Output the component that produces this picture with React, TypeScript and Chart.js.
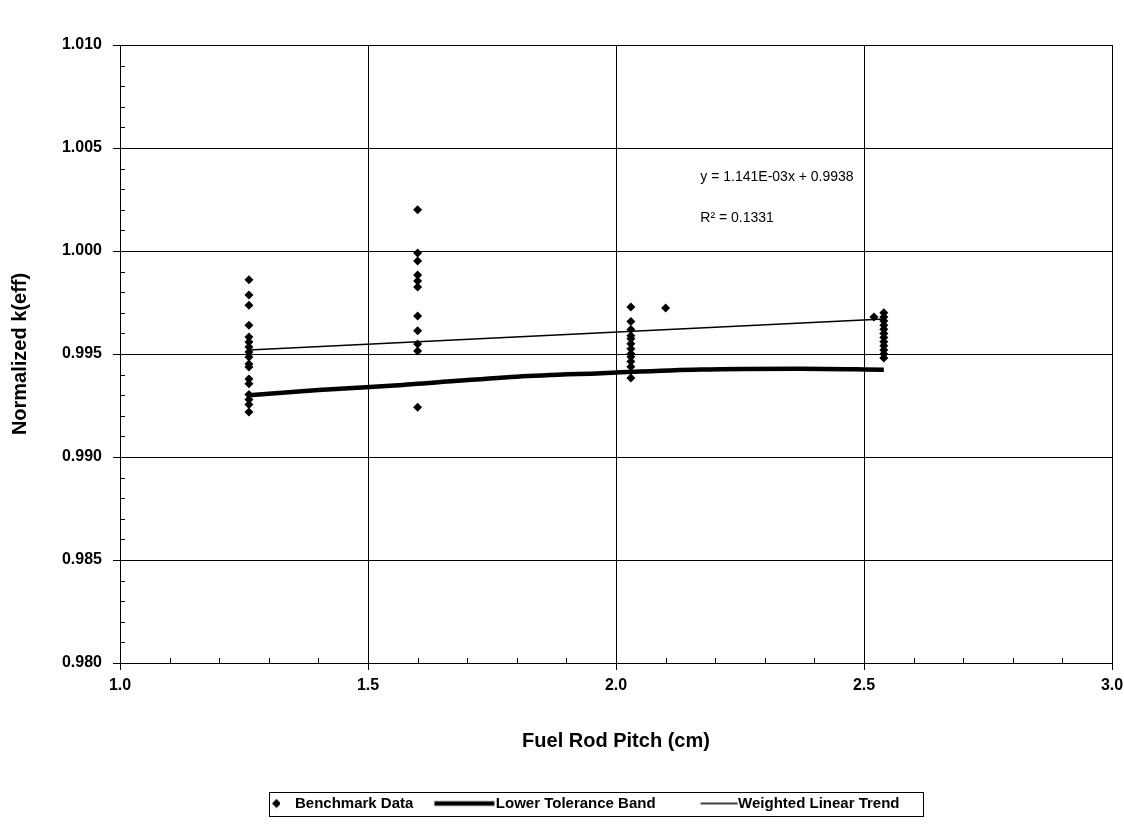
import React, { useEffect, useRef } from "react";
import { Chart, registerables } from "chart.js";

Chart.register(...registerables);

const FONT = "'Liberation Sans', Arial, Helvetica, sans-serif";

// ---- data ----
const clusterPitch = [1.26, 1.6, 2.03, 2.1, 2.52, 2.54];
const clusterKeff: number[][] = [
  [0.9986, 0.99786, 0.99737, 0.9964, 0.99582, 0.99558, 0.99534, 0.9951, 0.99485, 0.99452, 0.99437, 0.99379, 0.99355, 0.99303, 0.99279, 0.99255, 0.99219],
  [1.002, 0.9999, 0.99952, 0.99883, 0.99854, 0.99825, 0.99685, 0.99613, 0.99548, 0.99514, 0.99241],
  [0.99728, 0.99658, 0.99619, 0.99588, 0.99574, 0.9955, 0.99525, 0.99501, 0.99487, 0.99463, 0.99438, 0.99383],
  [0.99723],
  [0.9968],
  [0.997, 0.9968, 0.9966, 0.9964, 0.9962, 0.996, 0.9958, 0.9956, 0.9954, 0.9952, 0.995, 0.9948],
];

const bandPitch = [1.26, 1.4, 1.57, 1.8, 1.97, 2.17, 2.37, 2.54];
const bandKeff = [0.993, 0.99325, 0.9935, 0.9939, 0.99407, 0.99425, 0.99429, 0.99424];

const trendPitch = [1.26, 2.54];
const trendKeff = [0.9952, 0.9967];

const seriesNames = ["Benchmark Data", "Lower Tolerance Band", "Weighted Linear Trend"];

const xRange = [1.0, 3.0];
const yRange = [0.98, 1.01];
const xMajorStep = 0.5;
const yMajorStep = 0.005;
const xMinorStep = 0.1;
const yMinorStep = 0.001;

const equationText = ["y = 1.141E-03x + 0.9938", "R\u00B2 = 0.1331"];
const equationPitch = [2.17, 2.17];
const equationKeff = [1.0036, 1.0016];

function makeMarker(kind: string): HTMLCanvasElement {
  const c = document.createElement("canvas");
  const ctx = c.getContext("2d")!;
  if (kind === "diamond") {
    c.width = 60;
    c.height = 12;
    ctx.fillStyle = "#000";
    const cx = 56.5, cy = 6, r = 4.5;
    ctx.beginPath();
    ctx.moveTo(cx, cy - r);
    ctx.lineTo(cx + r, cy);
    ctx.lineTo(cx, cy + r);
    ctx.lineTo(cx - r, cy);
    ctx.closePath();
    ctx.fill();
  } else if (kind === "thick") {
    c.width = 90;
    c.height = 8;
    ctx.strokeStyle = "#000";
    ctx.lineWidth = 4.5;
    ctx.beginPath();
    ctx.moveTo(28.5, 4);
    ctx.lineTo(88.5, 4);
    ctx.stroke();
  } else {
    c.width = 90;
    c.height = 8;
    ctx.strokeStyle = "#000";
    ctx.lineWidth = 1.5;
    ctx.beginPath();
    ctx.moveTo(52.5, 4);
    ctx.lineTo(89.5, 4);
    ctx.stroke();
  }
  return c;
}

const minorTicksPlugin = {
  id: "minorTicks",
  afterDatasetsDraw(chart: any) {
    const { ctx, chartArea, scales } = chart;
    const x = scales.x, y = scales.y;
    ctx.save();
    ctx.strokeStyle = "#000";
    ctx.lineWidth = 1;
    ctx.beginPath();
    const nx = Math.round((xRange[1] - xRange[0]) / xMinorStep);
    for (let i = 1; i < nx; i++) {
      if (i % 5 === 0) continue;
      const px = Math.round(x.getPixelForValue(xRange[0] + i * xMinorStep)) + 0.5;
      ctx.moveTo(px, chartArea.bottom);
      ctx.lineTo(px, chartArea.bottom - 5);
    }
    const ny = Math.round((yRange[1] - yRange[0]) / yMinorStep);
    for (let i = 1; i < ny; i++) {
      if (i % 5 === 0) continue;
      const py = Math.round(y.getPixelForValue(yRange[0] + i * yMinorStep)) + 0.5;
      ctx.moveTo(chartArea.left, py);
      ctx.lineTo(chartArea.left + 5, py);
    }
    ctx.stroke();

    // regression annotation
    ctx.font = `14px ${FONT}`;
    ctx.fillStyle = "#000";
    ctx.textAlign = "left";
    ctx.textBaseline = "middle";
    equationText.forEach((t, i) => {
      ctx.fillText(t, x.getPixelForValue(equationPitch[i]), y.getPixelForValue(equationKeff[i]));
    });
    ctx.restore();
  },
};

const legendBoxPlugin = {
  id: "legendBox",
  afterDraw(chart: any) {
    const lg = chart.legend;
    if (!lg || !lg.legendHitBoxes || !lg.legendHitBoxes.length) return;
    const hb = lg.legendHitBoxes;
    const bw = lg.options.labels.pointStyleWidth;
    const first = hb[0];
    const last = hb[hb.length - 1];
    const left = first.left + bw - 18;
    const right = last.left + last.width + 24;
    const cy = first.top + first.height / 2;
    const { ctx } = chart;
    ctx.save();
    ctx.strokeStyle = "#000";
    ctx.lineWidth = 1;
    ctx.strokeRect(Math.round(left) + 0.5, Math.round(cy - 12) + 0.5, Math.round(right - left), 24);
    ctx.restore();
  },
};

export default function App() {
  const ref = useRef<HTMLCanvasElement | null>(null);

  useEffect(() => {
    document.body.style.margin = "0";
    document.body.style.overflow = "hidden";
    const canvas = ref.current;
    if (!canvas) return;

    const benchmark: { x: number; y: number }[] = [];
    clusterPitch.forEach((px, i) => clusterKeff[i].forEach((k) => benchmark.push({ x: px, y: k })));
    const band = bandPitch.map((p, i) => ({ x: p, y: bandKeff[i] }));
    const trend = trendPitch.map((p, i) => ({ x: p, y: trendKeff[i] }));

    const markers = [makeMarker("diamond"), makeMarker("thick"), makeMarker("thin")];

    const chart = new Chart(canvas, {
      type: "scatter",
      data: {
        datasets: [
          {
            label: seriesNames[0],
            data: benchmark,
            showLine: false,
            pointStyle: "rectRot",
            pointRadius: 4.5,
            backgroundColor: "#000",
            borderColor: "#000",
            borderWidth: 0,
          },
          {
            label: seriesNames[1],
            data: band,
            showLine: true,
            pointRadius: 0,
            borderColor: "#000",
            backgroundColor: "#000",
            borderWidth: 4.5,
            cubicInterpolationMode: "monotone",
          },
          {
            label: seriesNames[2],
            data: trend,
            showLine: true,
            pointRadius: 0,
            borderColor: "#000",
            backgroundColor: "#000",
            borderWidth: 1.5,
          },
        ],
      },
      options: {
        responsive: false,
        animation: false,
        devicePixelRatio: 1,
        events: [],
        layout: { padding: { top: 45, right: 12, left: 0, bottom: 14 } },
        scales: {
          x: {
            type: "linear",
            min: xRange[0],
            max: xRange[1],
            afterFit: (s: any) => {
              s.height = 133;
              s.paddingLeft = 0;
              s.paddingRight = 0;
            },
            ticks: {
              stepSize: xMajorStep,
              autoSkip: false,
              maxRotation: 0,
              padding: 6,
              color: "#000",
              font: { family: FONT, size: 16, weight: "bold" },
              callback: (v: any) => Number(v).toFixed(1),
            },
            grid: { color: "#000", lineWidth: 1, tickLength: 7, tickColor: "#000" },
            border: { color: "#000", width: 1 },
            title: {
              display: true,
              text: "Fuel Rod Pitch (cm)",
              color: "#000",
              font: { family: FONT, size: 20, weight: "bold" },
              padding: { top: 0, bottom: 43 },
            },
          },
          y: {
            type: "linear",
            min: yRange[0],
            max: yRange[1],
            afterFit: (s: any) => {
              s.width = 120;
              s.paddingTop = 0;
              s.paddingBottom = 0;
            },
            ticks: {
              stepSize: yMajorStep,
              autoSkip: false,
              padding: 11,
              color: "#000",
              font: { family: FONT, size: 16, weight: "bold" },
              callback: (v: any) => Number(v).toFixed(3),
            },
            grid: { color: "#000", lineWidth: 1, tickLength: 7, tickColor: "#000" },
            border: { color: "#000", width: 1 },
            title: {
              display: true,
              text: "Normalized k(eff)",
              color: "#000",
              font: { family: FONT, size: 20, weight: "bold" },
              padding: { top: 8, bottom: 0 },
            },
          },
        },
        plugins: {
          tooltip: { enabled: false },
          legend: {
            display: true,
            position: "bottom",
            labels: {
              usePointStyle: true,
              pointStyleWidth: 75,
              padding: 0,
              color: "#000",
              font: { family: FONT, size: 15, weight: "bold" },
              generateLabels: (c: any) =>
                Chart.defaults.plugins.legend.labels.generateLabels(c).map((l: any, i: number) => ({
                  ...l,
                  pointStyle: markers[i],
                })),
            },
          },
        },
      } as any,
      plugins: [minorTicksPlugin, legendBoxPlugin],
    });

    return () => chart.destroy();
  }, []);

  return <canvas ref={ref} width={1124} height={835} style={{ display: "block", width: "1124px", height: "835px" }} />;
}
